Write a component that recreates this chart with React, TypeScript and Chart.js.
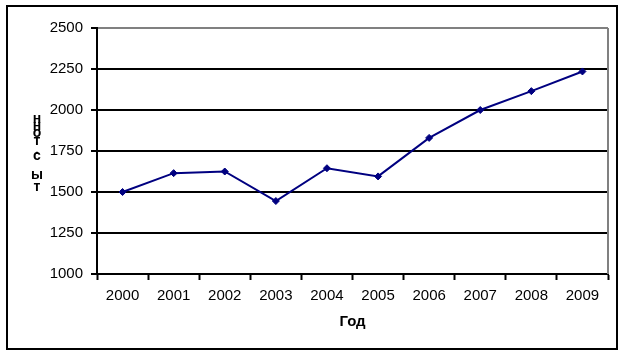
import React, { useEffect, useRef } from "react";
import { Chart, registerables } from "chart.js";

Chart.register(...registerables);

const years = ["2000", "2001", "2002", "2003", "2004", "2005", "2006", "2007", "2008", "2009"];
const values = [1500, 1615, 1625, 1445, 1645, 1595, 1830, 2000, 2115, 2235];
const yTitle = "тыс. тонн";
const xTitle = "Год";

const FONT = "'Liberation Sans', Arial, sans-serif";

const framePlugin = {
  id: "frame",
  beforeDraw(chart: any) {
    const ctx = chart.ctx;
    ctx.save();
    ctx.fillStyle = "#ffffff";
    ctx.fillRect(0, 0, chart.width, chart.height);
    ctx.restore();
  },
  afterDraw(chart: any) {
    const ctx = chart.ctx;
    const a = chart.chartArea;
    ctx.save();
    // outer border
    ctx.strokeStyle = "#000000";
    ctx.lineWidth = 2;
    ctx.strokeRect(7, 6, 610, 343);
    // right plot border
    ctx.strokeStyle = "#808080";
    ctx.lineWidth = 2;
    ctx.beginPath();
    ctx.moveTo(a.right, a.top);
    ctx.lineTo(a.right, a.bottom);
    ctx.stroke();
    // x title
    ctx.fillStyle = "#000000";
    ctx.font = "bold 15px " + FONT;
    ctx.textAlign = "center";
    ctx.textBaseline = "middle";
    ctx.fillText(xTitle, (a.left + a.right) / 2, 322);
    // stacked y title, reading bottom-to-top
    ctx.font = "bold 14px " + FONT;
    const chars = Array.from(yTitle);
    const ys = [187, 175, 156, 150, 146, 141, 133, 126, 119];
    chars.forEach((c, i) => {
      if (c !== " ") ctx.fillText(c, 37, ys[i]);
    });
    ctx.restore();
  },
};

export default function App() {
  const ref = useRef<HTMLCanvasElement>(null);
  useEffect(() => {
    document.body.style.margin = "0";
    const chart = new Chart(ref.current!, {
      type: "line",
      data: {
        labels: years,
        datasets: [
          {
            data: values,
            borderColor: "#000080",
            backgroundColor: "#000080",
            borderWidth: 2,
            pointStyle: "rectRot",
            pointRadius: 3.5,
            pointBorderWidth: 1,
            pointBackgroundColor: "#000080",
            pointBorderColor: "#000080",
            tension: 0,
          },
        ],
      },
      options: {
        responsive: false,
        animation: false,
        layout: { padding: { left: 0, top: 28, right: 14, bottom: 0 } },
        plugins: { legend: { display: false }, tooltip: { enabled: false } },
        scales: {
          x: {
            offset: true,
            grid: {
              offset: true,
              drawOnChartArea: false,
              drawTicks: true,
              tickLength: 6,
              tickColor: "#000000",
              tickWidth: 2,
            },
            border: { color: "#000000", width: 2 },
            ticks: { color: "#000000", font: { family: FONT, size: 15 }, padding: 7, maxRotation: 0 },
            afterFit(scale: any) {
              scale.height = 80;
            },
          },
          y: {
            min: 1000,
            max: 2500,
            ticks: {
              stepSize: 250,
              color: "#000000",
              font: { family: FONT, size: 15 },
              padding: 8,
              callback: (v: any) => String(v),
            },
            grid: {
              color: (c: any) => (c.tick && c.tick.value === 2500 ? "#808080" : "#000000"),
              lineWidth: 2,
              tickLength: 6,
              tickColor: "#000000",
              tickWidth: 2,
            },
            border: { color: "#000000", width: 2 },
            afterFit(scale: any) {
              scale.width = 97;
            },
          },
        },
      },
      plugins: [framePlugin],
    });
    return () => chart.destroy();
  }, []);
  return <canvas ref={ref} width={622} height={354} style={{ display: "block" }} />;
}
